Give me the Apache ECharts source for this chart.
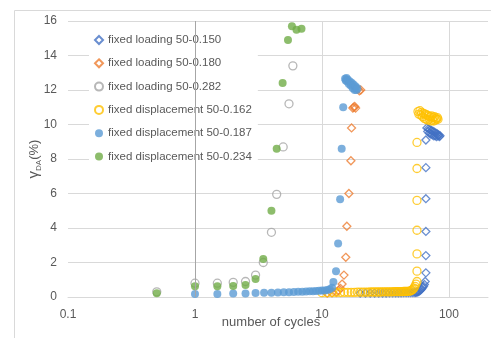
<!DOCTYPE html>
<html>
<head>
<meta charset="utf-8">
<script src="https://cdn.jsdelivr.net/npm/echarts@6/dist/echarts.min.js"></script>
<style>html,body{margin:0;padding:0;background:#fff;}#c{width:491px;height:338px;}</style>
</head>
<body>
<div id="c"></div>
<script>
// ---- data ----
var seriesNames = ['fixed loading 50-0.150','fixed loading 50-0.180','fixed loading 50-0.282',
  'fixed displacement 50-0.162','fixed displacement 50-0.187','fixed displacement 50-0.234'];
var xTickValues = [0.1,1,10,100];
var xTickLabels = ['0.1','1','10','100'];

var xA = [20,22,24,26,28,30,32,34,36,38,40,42,44,46,48,50,52,54,55,56,57,58,59,60,61,62,63,64,65,
  65.8,65.8,65.8,65.8,65.8,65.8,
  67,68,69,70,71,72,73,74,75,76,77,78,79,80,81,82,83,84,85];
var yA = [0.22,0.22,0.22,0.23,0.23,0.23,0.23,0.24,0.24,0.24,0.24,0.24,0.25,0.25,0.25,0.25,0.25,0.26,0.27,0.28,0.3,0.33,0.37,0.42,0.48,0.55,0.63,0.72,0.9,
  1.4,2.4,3.8,5.7,7.5,9.1,
  9.8,9.6,9.75,9.5,9.7,9.45,9.65,9.4,9.6,9.35,9.55,9.35,9.5,9.3,9.45,9.35,9.4,9.3,9.35];

var xB = [11,12,13,13.5,14,14.4,14.9,15.4,15.7,16.3,16.9,17.1,17.5,17.8,18.1,18.4,19.2,19.7,20.2];
var yB = [0.22,0.24,0.28,0.38,0.5,0.75,1.27,2.3,4.1,6.0,7.9,9.8,10.95,11.0,11.05,10.95,12.05,11.95,12.0];

var xC = [0.5,1,1.5,2,2.5,3,3.45,4,4.4,4.95,5.5,5.9];
var yC = [0.3,0.8,0.8,0.85,0.9,1.27,2.0,3.75,5.95,8.7,11.2,13.4];

var xD = [10,11,12,13,14,15,16,17,18,19,20,21,22,23,24,25,26,27,28,29,30,31,32,33,34,35,36,37,38,39,40,
  41,42,43,44,45,46,47,48,49,50,51,52,53,54,55,
  56,56,56,56,56,56,56,
  57,58,59,60,61,62,63,64,65,66,67,68,69,70,71,72,73,74,75,76,77,78,79,80,81,82];
var yD = [0.25,0.25,0.26,0.26,0.26,0.27,0.27,0.27,0.27,0.28,0.28,0.28,0.28,0.28,0.29,0.29,0.29,0.29,0.29,0.29,0.3,0.3,0.3,0.3,0.3,0.3,0.3,0.31,0.31,0.31,0.31,
  0.31,0.31,0.31,0.32,0.32,0.32,0.33,0.33,0.34,0.36,0.39,0.44,0.52,0.62,0.75,
  0.9,1.5,2.5,3.87,5.6,7.45,8.96,
  10.75,10.6,10.8,10.55,10.7,10.45,10.65,10.35,10.6,10.3,10.55,10.25,10.5,10.3,10.45,10.2,10.5,10.25,10.4,10.2,10.45,10.25,10.35,10.3,10.4,10.3];

var xE = [1,1.5,2,2.5,3,3.5,4,4.5,5,5.5,6,6.5,7,7.5,8,8.5,9,9.5,10,10.5,11,11.5,12,12.3,12.9,13.4,13.9,14.3,14.7,
  15.2,15.4,15.6,15.8,16.0,16.3,16.6,16.9,17.2,17.5,17.8,18.1,18.4,18.7,19.0];
var yE = [0.17,0.18,0.2,0.21,0.23,0.24,0.25,0.26,0.27,0.28,0.29,0.3,0.31,0.32,0.33,0.34,0.35,0.36,0.37,0.38,0.41,0.45,0.53,0.87,1.5,3.1,5.67,8.6,11.0,
  12.65,12.55,12.7,12.5,12.6,12.35,12.5,12.25,12.4,12.1,12.3,12.0,12.2,12.0,12.1];

var xF = [0.5,1,1.5,2,2.5,3,3.45,4,4.4,4.9,5.4,5.8,6.3,6.9];
var yF = [0.22,0.62,0.62,0.64,0.7,1.04,2.2,5.0,8.6,12.4,14.9,15.7,15.5,15.55];

var yTicks = [0,2,4,6,8,10,12,14,16];

function zip(xs, ys){ var out=[]; for(var i=0;i<xs.length;i++){ out.push([xs[i], ys[i]]); } return out; }

var chart = echarts.init(document.getElementById('c'), null, {renderer:'canvas'});
var FONT = 'Liberation Sans';
var TXT = '#595959';
var GRID = '#d9d9d9';

function hollow(name, data, symbol, color, size){
  return {name:name, type:'scatter', data:data, symbol:symbol, symbolSize:size,
    itemStyle:{color:'rgba(255,255,255,0)', borderColor:color, borderWidth:1.3},
    emphasis:{disabled:true}, animation:false};
}
function filled(name, data, color, size){
  return {name:name, type:'scatter', data:data, symbol:'circle', symbolSize:size,
    itemStyle:{color:color}, emphasis:{disabled:true}, animation:false};
}

var sA = hollow(seriesNames[0], zip(xA,yA), 'diamond', '#4472C4', 8);
sA.markLine = {silent:true, symbol:'none', label:{show:false}, animation:false,
  lineStyle:{color:'#a6a6a6', type:'solid', width:1}, data:[{xAxis:1}]};

function tickLabel(v){
  for (var i=0;i<xTickValues.length;i++){
    if (Math.abs(Math.log10(v) - Math.log10(xTickValues[i])) < 1e-6) return xTickLabels[i];
  }
  return '';
}

var option = {
  animation:false,
  textStyle:{fontFamily:FONT},
  grid:{left:68, top:21, bottom:41, right:3},
  xAxis:{type:'log', logBase:10, min:0.1, max:203,
    axisLine:{show:true, lineStyle:{color:GRID}},
    axisTick:{show:false},
    splitLine:{show:true, showMinLine:false, showMaxLine:false, lineStyle:{color:GRID, width:1}},
    axisLabel:{color:TXT, fontSize:12, fontFamily:FONT, margin:12, showMinLabel:true, showMaxLabel:false,
      formatter:function(v){ return tickLabel(v); }}
  },
  yAxis:{type:'value', min:0, max:16, interval:2,
    axisLine:{show:false}, axisTick:{show:false},
    splitLine:{lineStyle:{color:GRID, width:1}},
    axisLabel:{color:TXT, fontSize:12, fontFamily:FONT, margin:11,
      formatter:function(v){ return yTicks.indexOf(v)>=0 ? String(v) : ''; }},
    name:'{g|γ}{s|DA}{p|(%)}', nameLocation:'middle', nameGap:25, nameMoveOverlap:false,
    nameTextStyle:{color:TXT, fontFamily:FONT, fontSize:13,
      rich:{g:{fontSize:15, lineHeight:18, color:TXT, fontFamily:FONT},
            s:{fontSize:8, lineHeight:9, verticalAlign:'bottom', color:TXT, fontFamily:FONT},
            p:{fontSize:13, lineHeight:18, color:TXT, fontFamily:FONT}}}
  },
  legend:{orient:'vertical', left:89, top:28, padding:[5,6,5,5], itemGap:9.3,
    backgroundColor:'#ffffff', itemWidth:8, itemHeight:8, selectedMode:false,
    textStyle:{color:TXT, fontSize:11.5, fontFamily:FONT, lineHeight:14},
    data:seriesNames},
  graphic:[
    {type:'rect', silent:true, z:-10, shape:{x:14.5, y:10.5, width:600, height:400},
      style:{fill:'none', stroke:GRID, lineWidth:1}},
    {type:'text', silent:true, x:271, y:322, style:{text:'number of cycles', fill:TXT,
      font:'13px "Liberation Sans"', textAlign:'center', textVerticalAlign:'middle'}}
  ],
  series:[
    sA,
    hollow(seriesNames[1], zip(xB,yB), 'diamond', '#ED7D31', 8),
    hollow(seriesNames[2], zip(xC,yC), 'circle', '#A5A5A5', 8),
    hollow(seriesNames[3], zip(xD,yD), 'circle', '#FFC000', 8),
    filled(seriesNames[4], zip(xE,yE), '#5B9BD5', 8),
    filled(seriesNames[5], zip(xF,yF), '#70AD47', 8)
  ]
};
chart.setOption(option);
</script>
</body>
</html>
